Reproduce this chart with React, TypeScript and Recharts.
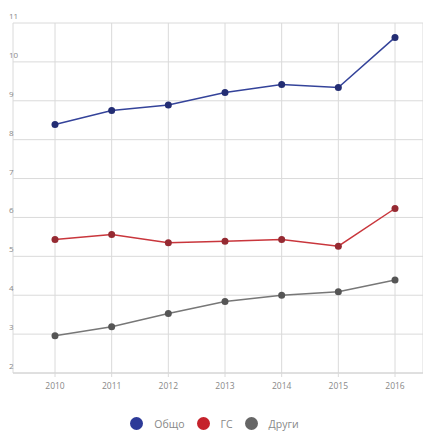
import React from 'react';
import { LineChart, Line, XAxis, YAxis, CartesianGrid, Legend } from 'recharts';

const years = ['2010', '2011', '2012', '2013', '2014', '2015', '2016'];
const obshto = [8.39, 8.75, 8.89, 9.21, 9.42, 9.34, 10.63];
const gs = [5.43, 5.56, 5.35, 5.39, 5.43, 5.26, 6.23];
const drugi = [2.96, 3.19, 3.53, 3.84, 4.0, 4.09, 4.39];
const yTicks = [2, 3, 4, 5, 6, 7, 8, 9, 10, 11];

const seriesInfo = [
  { key: 'obshto', name: 'Общо', stroke: '#34439a', dot: '#232d73', legend: '#2d3a98' },
  { key: 'gs', name: 'ГС', stroke: '#c9363c', dot: '#952a32', legend: '#c5222b' },
  { key: 'drugi', name: 'Други', stroke: '#777777', dot: '#555555', legend: '#666666' },
];

const data = years.map((y, i) => ({ year: y, obshto: obshto[i], gs: gs[i], drugi: drugi[i] }));

const YTick = (props: any) => {
  const { y, payload } = props;
  return (
    <text x={9} y={y - 4} textAnchor="start" fontSize={8} fill="#888" fontFamily="Open Sans">
      {payload.value}
    </text>
  );
};

const LegendContent = () => (
  <div
    style={{
      height: 35,
      boxSizing: 'border-box',
      paddingTop: 18,
      paddingLeft: 6,
      display: 'flex',
      justifyContent: 'center',
      alignItems: 'center',
      fontFamily: 'Open Sans',
      fontSize: 10.5,
      color: '#888',
    }}
  >
    {seriesInfo.map((s, i) => (
      <div
        key={s.key}
        style={{ display: 'flex', alignItems: 'center', marginRight: i < seriesInfo.length - 1 ? 12 : 0 }}
      >
        <span
          style={{
            display: 'inline-block',
            width: 13,
            height: 13,
            borderRadius: 7,
            background: s.legend,
            marginRight: 11,
          }}
        />
        <span>{s.name}</span>
      </div>
    ))}
  </div>
);

export default function App() {
  return (
    <div style={{ position: 'absolute', left: 0, top: 0, width: 423, height: 432, background: '#fff' }}>
      <LineChart width={423} height={432} data={data} margin={{ top: 23, right: 0, left: 0, bottom: 0 }}>
        <CartesianGrid stroke="#dadada" strokeWidth={1} />
        <XAxis
          dataKey="year"
          padding={{ left: 42, right: 28 }}
          axisLine={{ stroke: '#d2d2d2' }}
          tickLine={{ stroke: '#dadada' }}
          tickSize={4}
          tickMargin={6}
          height={24}
          tick={{ fontSize: 8.5, fill: '#888', fontFamily: 'Open Sans' }}
          interval={0}
        />
        <YAxis
          width={13}
          domain={[2, 11]}
          ticks={yTicks}
          axisLine={false}
          tickLine={false}
          tick={<YTick />}
          interval={0}
        />
        <Legend verticalAlign="bottom" height={35} content={<LegendContent />} />
        {seriesInfo.map((s) => (
          <Line
            key={s.key}
            type="linear"
            dataKey={s.key}
            name={s.name}
            stroke={s.stroke}
            strokeWidth={1.5}
            dot={{ r: 3.5, fill: s.dot, stroke: s.dot, strokeWidth: 0 }}
            activeDot={false}
            isAnimationActive={false}
          />
        ))}
      </LineChart>
    </div>
  );
}
